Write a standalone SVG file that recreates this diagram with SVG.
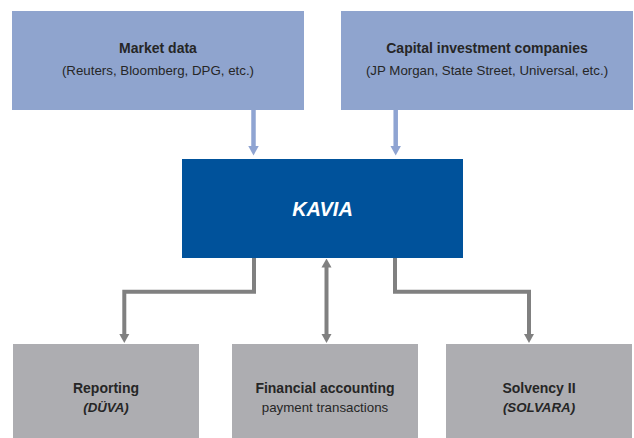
<svg xmlns="http://www.w3.org/2000/svg" width="634" height="438" viewBox="0 0 634 438">
  <style>
    .src { fill: #8fa4ce; }
    .core { fill: #00529b; }
    .out { fill: #adadb1; }
    .title { font-family: "Liberation Sans", Arial, sans-serif; font-size: 14px; font-weight: bold; fill: #262626; text-anchor: middle; }
    .sub { font-family: "Liberation Sans", Arial, sans-serif; font-size: 13.3px; fill: #262626; text-anchor: middle; }
    .subi { font-family: "Liberation Sans", Arial, sans-serif; font-size: 13.3px; font-weight: bold; font-style: italic; fill: #262626; text-anchor: middle; }
    .core-label { font-family: "Liberation Sans", Arial, sans-serif; font-size: 20px; font-weight: bold; font-style: italic; fill: #ffffff; text-anchor: middle; }
    .in-line { fill: none; stroke: #8fa4d2; stroke-width: 4.5; }
    .out-line { fill: none; stroke: #808080; stroke-width: 4; stroke-linejoin: miter; }
  </style>
  <defs>
    <marker id="head-in" markerUnits="userSpaceOnUse" markerWidth="10" markerHeight="12" refX="0.5" refY="6" orient="auto">
      <path d="M0,0.5 L10,6 L0,11.5 z" fill="#8fa4d2"/>
    </marker>
    <marker id="head-out" markerUnits="userSpaceOnUse" markerWidth="9" markerHeight="11" refX="0.5" refY="5.5" orient="auto-start-reverse">
      <path d="M0,0.5 L9,5.5 L0,10.5 z" fill="#808080"/>
    </marker>
  </defs>

  <!-- data sources -->
  <g id="market-data">
    <rect class="src" x="12" y="11" width="292" height="99"/>
    <text class="title" x="158" y="53">Market data</text>
    <text class="sub" x="158" y="75">(Reuters, Bloomberg, DPG, etc.)</text>
  </g>
  <g id="capital-investment">
    <rect class="src" x="341" y="11" width="292" height="99"/>
    <text class="title" x="487" y="53">Capital investment companies</text>
    <text class="sub" x="487" y="75">(JP Morgan, State Street, Universal, etc.)</text>
  </g>

  <!-- central system -->
  <g id="kavia">
    <rect class="core" x="182" y="159" width="281" height="99"/>
    <text class="core-label" x="322.5" y="216">KAVIA</text>
  </g>

  <!-- consumers -->
  <g id="reporting">
    <rect class="out" x="13" y="344" width="186" height="94"/>
    <text class="title" x="106" y="393">Reporting</text>
    <text class="subi" x="106" y="412">(DÜVA)</text>
  </g>
  <g id="financial-accounting">
    <rect class="out" x="232" y="344" width="186" height="94"/>
    <text class="title" x="325" y="393">Financial accounting</text>
    <text class="sub" x="325" y="412">payment transactions</text>
  </g>
  <g id="solvency">
    <rect class="out" x="446" y="344" width="186" height="94"/>
    <text class="title" x="539" y="393">Solvency II</text>
    <text class="subi" x="539" y="412">(SOLVARA)</text>
  </g>

  <!-- connectors -->
  <g id="connectors">
    <path class="in-line" d="M253.5,110 V146" marker-end="url(#head-in)"/>
    <path class="in-line" d="M395.7,110 V146" marker-end="url(#head-in)"/>
    <path class="out-line" d="M254,258 V291.7 H124.3 V334.5" marker-end="url(#head-out)"/>
    <path class="out-line" d="M326.5,267 V334.5" marker-start="url(#head-out)" marker-end="url(#head-out)"/>
    <path class="out-line" d="M395,258 V291.7 H529 V334.5" marker-end="url(#head-out)"/>
  </g>
</svg>
